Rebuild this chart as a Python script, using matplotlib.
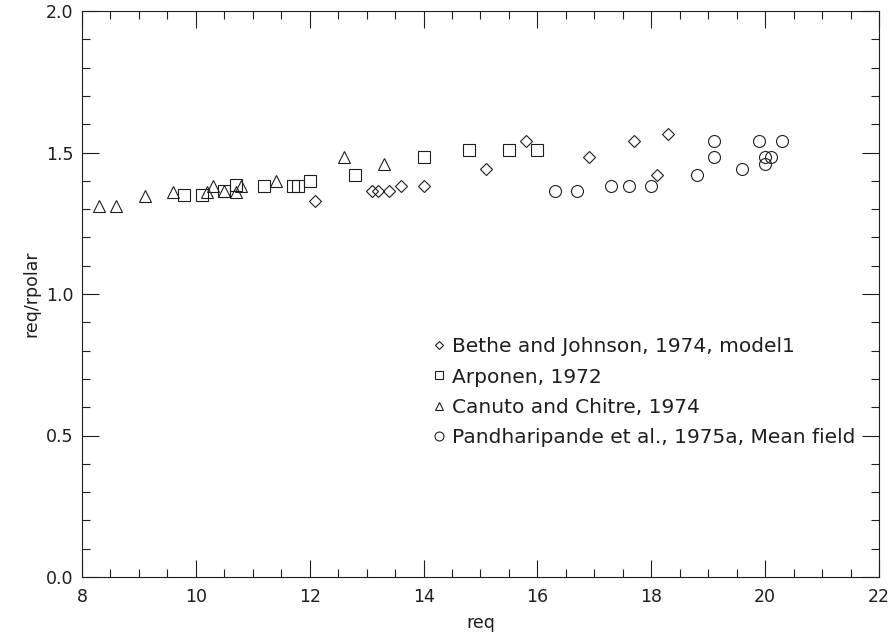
import matplotlib
matplotlib.use("Agg")
import matplotlib.pyplot as plt
from matplotlib.ticker import MultipleLocator, FormatStrFormatter

# Equatorial radius vs. oblateness ratio for several equations of state
bethe_req = [12.1, 13.1, 13.2, 13.4, 13.6, 14.0, 15.1, 15.8, 16.9, 17.7, 18.1, 18.3]
bethe_ratio = [1.33, 1.365, 1.365, 1.365, 1.38, 1.38, 1.44, 1.54, 1.485, 1.54, 1.42, 1.565]

arponen_req = [9.8, 10.1, 10.5, 10.7, 11.2, 11.7, 11.8, 12.0, 12.8, 14.0, 14.8, 15.5, 16.0]
arponen_ratio = [1.35, 1.35, 1.365, 1.385, 1.38, 1.38, 1.38, 1.40, 1.42, 1.485, 1.51, 1.51, 1.51]

canuto_req = [8.3, 8.6, 9.1, 9.6, 10.2, 10.3, 10.5, 10.7, 10.8, 11.4, 12.6, 13.3]
canuto_ratio = [1.31, 1.31, 1.345, 1.36, 1.36, 1.38, 1.365, 1.36, 1.38, 1.40, 1.485, 1.46]

pandh_req = [16.3, 16.7, 17.3, 17.6, 18.0, 18.8, 19.1, 19.1, 19.6, 19.9, 20.0, 20.1, 20.0, 20.3]
pandh_ratio = [1.365, 1.365, 1.38, 1.38, 1.38, 1.42, 1.54, 1.485, 1.44, 1.54, 1.485, 1.485, 1.46, 1.54]

series_labels = [
    "Bethe and Johnson, 1974, model1",
    "Arponen, 1972",
    "Canuto and Chitre, 1974",
    "Pandharipande et al., 1975a, Mean field",
]

ink = "#1e1e1e"
plt.rcParams["font.family"] = ["DejaVu Sans"]

fig = plt.figure(figsize=(8.92, 6.36), dpi=100)
ax = fig.add_axes([82 / 892, 59 / 636, 797 / 892, 566 / 636])

common = dict(linestyle="none", markerfacecolor="none", markeredgecolor=ink,
              markeredgewidth=0.8)
h1, = ax.plot(bethe_req, bethe_ratio, marker="D", markersize=6.0, **common)
h2, = ax.plot(arponen_req, arponen_ratio, marker="s", markersize=8.6, **common)
h3, = ax.plot(canuto_req, canuto_ratio, marker="^", markersize=8.6, **common)
h4, = ax.plot(pandh_req, pandh_ratio, marker="o", markersize=8.6, **common)

ax.set_xlim(8, 22)
ax.set_ylim(0.0, 2.0)
ax.xaxis.set_major_locator(MultipleLocator(2))
ax.xaxis.set_minor_locator(MultipleLocator(0.5))
ax.yaxis.set_major_locator(MultipleLocator(0.5))
ax.yaxis.set_minor_locator(MultipleLocator(0.1))
ax.yaxis.set_major_formatter(FormatStrFormatter("%.1f"))

ax.tick_params(which="both", direction="in", top=True, right=True,
               color=ink, width=0.8, labelcolor=ink, labelsize=12.5)
ax.tick_params(which="major", length=12)
ax.tick_params(which="minor", length=6)
ax.tick_params(axis="x", which="major", pad=8)
ax.tick_params(axis="y", which="major", pad=6)
for s in ax.spines.values():
    s.set_color(ink)
    s.set_linewidth(0.8)

ax.set_xlabel("req", fontsize=12.5, color=ink, labelpad=6)
ax.set_ylabel("req/rpolar", fontsize=12.5, color=ink, labelpad=4)

leg = ax.legend([h1, h2, h3, h4], series_labels, loc="upper left",
                bbox_to_anchor=(0.428, 0.441), frameon=False, borderpad=0,
                handlelength=0.6, handletextpad=0.35, labelspacing=0.55,
                markerscale=0.75, fontsize=14.5)
for t in leg.get_texts():
    t.set_color(ink)

fig.savefig("out.png", dpi=100)
